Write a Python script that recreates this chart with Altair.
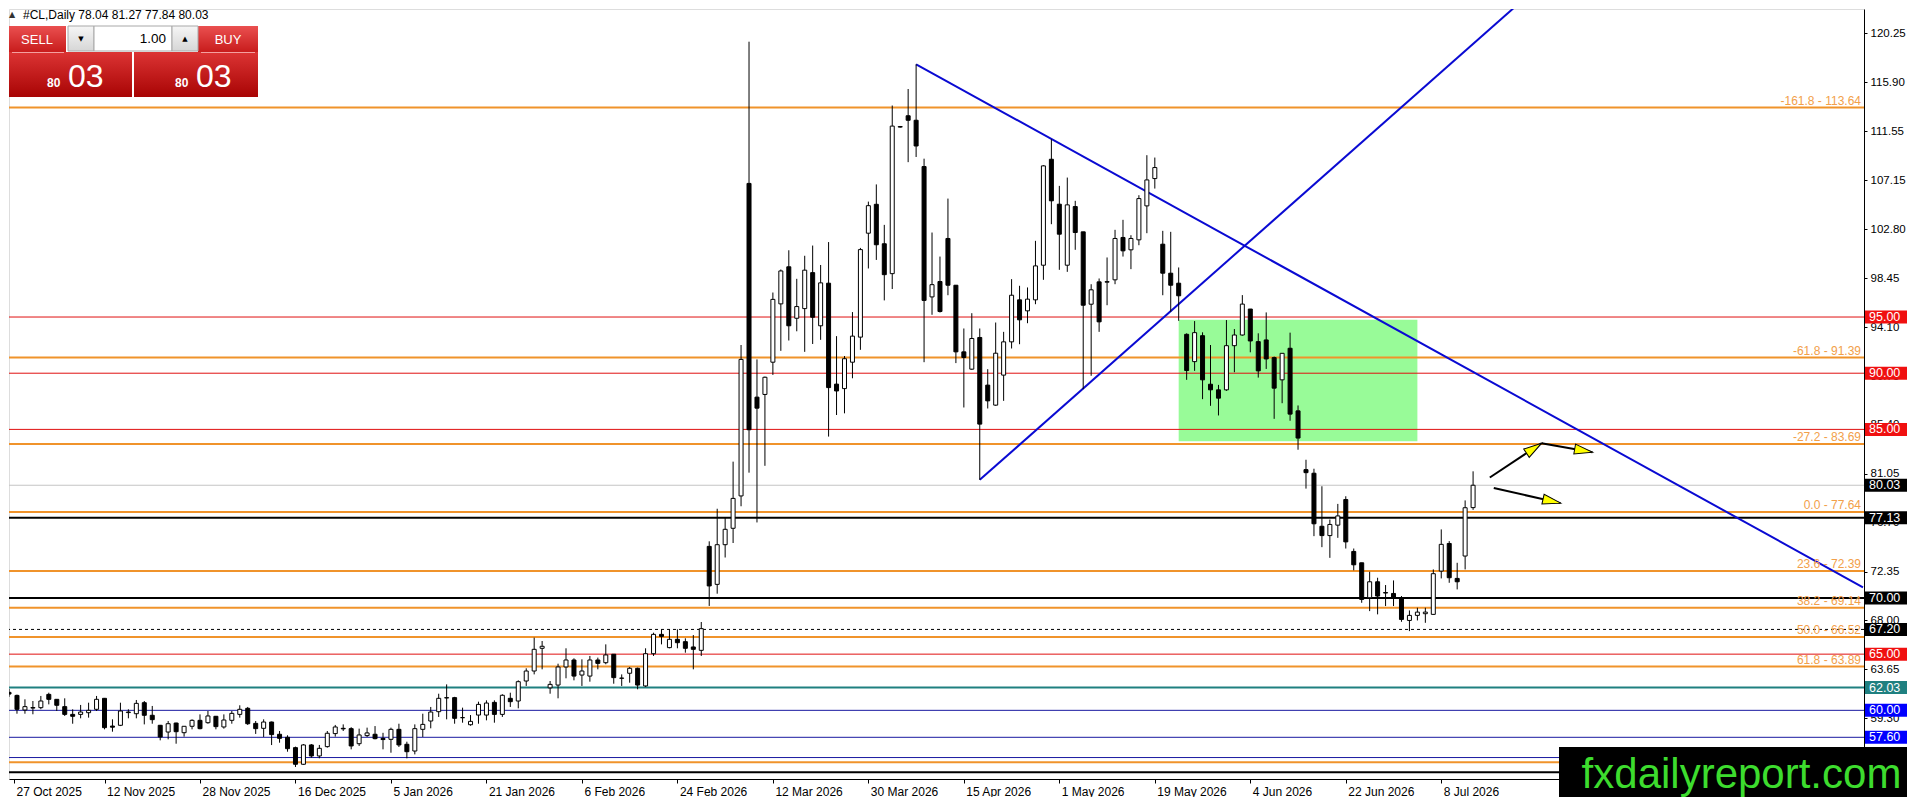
import json
import math
import altair as alt
import pandas as pd

# ---------------- data ----------------
opens = [61.60, 61.33, 60.03, 60.20, 60.24, 61.42, 60.98, 60.33, 59.64, 59.64,
         59.79, 60.09, 61.07, 58.60, 58.67, 59.80, 59.70, 60.68, 59.56, 58.67,
         58.07, 58.87, 58.01, 58.58, 59.11, 58.90, 59.47, 58.52, 59.11, 59.64,
         60.18, 58.84, 58.40, 58.96, 57.87, 57.60, 56.68, 55.20, 56.92, 55.94,
         56.77, 57.93, 58.40, 58.37, 57.03, 57.75, 57.87, 57.50, 57.42, 58.31,
         56.98, 56.38, 58.31, 59.05, 59.88, 61.10, 61.13, 59.35, 58.72, 59.58,
         59.58, 60.71, 59.64, 61.07, 60.83, 62.61, 63.50, 65.52, 62.00, 62.25,
         63.86, 64.48, 63.14, 63.05, 64.48, 64.24, 64.99, 62.85, 63.30, 63.74,
         62.17, 65.04, 66.76, 65.58, 66.32, 66.11, 65.64, 65.34, 74.59, 71.21,
         74.74, 76.20, 79.08, 106.89, 87.87, 88.11, 90.98, 96.17, 99.47, 94.89,
         95.75, 98.95, 94.22, 98.01, 89.03, 88.63, 90.98, 93.21, 102.46, 105.03,
         101.52, 98.86, 111.90, 112.91, 112.51, 108.39, 96.79, 98.16, 101.99, 97.83,
         91.90, 90.36, 93.18, 88.94, 87.16, 89.83, 92.79, 96.53, 95.55, 96.53,
         99.61, 109.04, 105.04, 99.61, 104.83, 102.58, 96.14, 98.13, 98.10, 98.31,
         102.08, 100.98, 101.87, 104.89, 107.32, 101.48, 98.90, 98.01, 93.46, 91.03,
         93.34, 89.02, 88.52, 88.52, 92.45, 93.40, 95.71, 92.81, 92.96, 91.39,
         89.41, 92.22, 86.65, 81.42, 81.10, 76.38, 75.55, 76.48, 78.76, 74.14,
         73.13, 70.02, 71.44, 70.48, 70.40, 70.02, 68.00, 68.45, 68.60, 68.54,
         72.39, 74.85, 71.74, 73.73, 78.04]
highs = [61.90, 61.40, 60.98, 60.83, 61.28, 61.57, 61.00, 61.07, 60.09, 60.48,
         60.68, 61.28, 61.10, 59.20, 60.68, 60.09, 60.92, 60.83, 60.39, 58.70,
         59.05, 58.90, 58.60, 59.20, 59.64, 59.94, 59.50, 59.64, 59.94, 60.45,
         60.30, 59.05, 59.20, 59.00, 58.16, 57.78, 56.77, 57.00, 57.00, 56.92,
         58.16, 58.70, 58.75, 58.50, 58.37, 58.46, 58.60, 58.00, 58.46, 58.81,
         57.21, 58.75, 59.70, 60.30, 61.48, 62.31, 61.20, 60.24, 59.58, 60.77,
         60.89, 60.89, 61.43, 61.57, 62.67, 63.74, 66.47, 66.17, 62.61, 64.15,
         65.52, 64.63, 64.54, 64.84, 64.69, 65.87, 65.00, 63.20, 63.86, 63.80,
         65.52, 66.91, 67.21, 67.21, 67.21, 66.41, 66.70, 67.86, 75.04, 77.94,
         77.18, 82.13, 92.51, 119.50, 91.23, 89.70, 97.18, 99.23, 100.94, 98.40,
         100.45, 101.36, 99.63, 101.67, 93.30, 91.53, 95.44, 101.15, 105.27, 106.80,
         103.20, 113.82, 112.00, 115.29, 117.49, 109.09, 102.52, 100.38, 105.54, 97.85,
         93.98, 95.34, 93.98, 90.36, 94.51, 93.68, 98.37, 97.78, 97.63, 101.78,
         108.51, 110.82, 106.67, 107.41, 105.34, 102.58, 97.92, 98.43, 100.30, 102.76,
         103.65, 102.28, 105.84, 109.40, 109.19, 102.67, 102.58, 99.41, 93.55, 94.64,
         93.64, 92.51, 88.96, 94.73, 93.93, 96.95, 95.71, 93.55, 95.41, 91.48,
         91.77, 93.61, 87.13, 82.30, 81.50, 79.94, 76.98, 78.37, 79.05, 74.40,
         73.13, 72.33, 71.80, 71.15, 71.56, 70.17, 68.89, 69.13, 69.13, 72.54,
         76.10, 75.06, 73.13, 78.68, 81.27]
lows = [61.20, 59.70, 59.70, 59.65, 60.10, 60.53, 59.94, 59.50, 58.81, 59.29,
        59.35, 59.94, 58.31, 58.10, 58.60, 59.29, 59.29, 58.75, 58.81, 57.33,
        57.42, 57.03, 57.66, 58.31, 58.31, 58.81, 58.31, 58.37, 58.81, 59.35,
        58.70, 57.90, 57.63, 56.91, 57.12, 56.32, 54.96, 55.15, 55.79, 55.73,
        56.68, 57.66, 58.16, 56.53, 56.83, 57.63, 57.42, 56.53, 56.23, 56.74,
        55.73, 56.08, 57.63, 58.40, 59.41, 59.20, 58.81, 58.90, 58.63, 58.81,
        59.11, 58.90, 59.41, 60.30, 60.18, 62.17, 63.20, 63.65, 61.48, 61.07,
        62.85, 62.67, 62.17, 62.55, 63.65, 64.10, 62.37, 62.17, 62.46, 61.87,
        62.08, 64.84, 65.87, 65.52, 65.52, 65.13, 63.65, 64.84, 69.29, 70.38,
        73.60, 74.89, 78.16, 81.15, 76.72, 81.76, 89.85, 91.99, 92.91, 93.73,
        91.90, 92.60, 92.97, 84.36, 86.28, 86.43, 89.55, 92.08, 99.32, 100.08,
        96.48, 97.49, 111.85, 108.78, 109.24, 90.98, 95.20, 95.40, 96.94, 90.90,
        86.95, 90.30, 80.51, 86.86, 87.10, 87.54, 92.20, 92.58, 94.45, 96.14,
        98.31, 103.26, 99.20, 99.02, 100.98, 88.58, 89.77, 93.68, 96.05, 97.92,
        100.38, 99.26, 101.39, 102.46, 106.43, 96.94, 95.46, 94.66, 89.41, 90.21,
        87.69, 87.10, 86.24, 88.43, 90.09, 93.34, 91.86, 89.61, 90.38, 85.94,
        87.33, 85.77, 83.19, 79.73, 75.50, 74.52, 73.57, 75.35, 74.40, 72.46,
        69.57, 68.83, 68.54, 69.28, 69.28, 67.88, 67.05, 68.00, 67.79, 68.50,
        71.74, 71.35, 70.76, 72.54, 77.84]
closes = [61.45, 60.09, 60.33, 60.25, 60.83, 60.98, 60.45, 59.64, 59.47, 59.85,
          60.00, 60.98, 58.46, 58.50, 59.94, 59.85, 60.62, 59.56, 59.17, 57.63,
          58.81, 58.10, 58.58, 59.11, 58.37, 59.50, 58.55, 59.14, 59.73, 60.09,
          58.81, 58.37, 58.96, 57.84, 57.51, 56.59, 55.20, 56.92, 55.94, 56.62,
          57.96, 58.52, 58.35, 56.83, 57.81, 57.99, 57.48, 57.40, 58.31, 56.92,
          56.32, 58.37, 58.75, 59.85, 61.07, 61.13, 59.29, 59.35, 59.02, 60.53,
          60.65, 59.64, 61.34, 60.77, 62.55, 63.50, 65.43, 65.70, 62.31, 63.86,
          64.48, 63.05, 63.50, 64.48, 64.18, 64.93, 62.91, 62.87, 63.74, 62.25,
          65.04, 66.76, 66.58, 66.32, 66.02, 65.52, 65.43, 67.27, 71.07, 74.74,
          76.11, 78.86, 91.23, 84.97, 86.89, 89.64, 96.57, 99.10, 94.22, 95.93,
          99.17, 94.98, 98.04, 88.72, 88.42, 91.29, 93.30, 101.00, 104.91, 101.43,
          98.77, 111.99, 111.95, 112.51, 110.22, 96.48, 97.88, 95.49, 97.83, 91.90,
          91.40, 93.09, 85.47, 87.54, 91.78, 92.79, 96.94, 94.75, 96.59, 99.55,
          108.45, 105.34, 102.37, 104.98, 102.52, 96.05, 97.42, 94.57, 98.15, 101.99,
          100.89, 101.99, 105.54, 107.20, 108.30, 98.90, 97.83, 96.89, 90.24, 93.61,
          89.41, 88.52, 87.78, 92.45, 93.40, 96.15, 92.87, 90.21, 91.27, 88.67,
          91.77, 86.36, 84.23, 81.15, 76.60, 75.55, 76.54, 77.30, 74.99, 72.95,
          69.87, 71.44, 70.17, 70.44, 70.02, 68.09, 68.45, 68.74, 68.74, 72.16,
          74.77, 71.80, 71.44, 78.03, 80.03]

date_labels = ["27 Oct 2025", "12 Nov 2025", "28 Nov 2025", "16 Dec 2025",
               "5 Jan 2026", "21 Jan 2026", "6 Feb 2026", "24 Feb 2026",
               "12 Mar 2026", "30 Mar 2026", "15 Apr 2026", "1 May 2026",
               "19 May 2026", "4 Jun 2026", "22 Jun 2026", "8 Jul 2026"]
bars_per_label = 12

# tick labels of the price scale (the lowest one is hidden by the watermark)
price_ticks = [120.25, 115.90, 111.55, 107.15, 102.80, 98.45, 94.10, 89.75,
               85.40, 81.05, 76.70, 72.35, 68.00, 63.65, 59.30]

fib_levels = [113.64, 91.39, 83.69, 77.64, 72.39, 69.14, 66.52, 63.89, 55.39]
fib_names = ["-161.8", "-61.8", "-27.2", "0.0", "23.6", "38.2", "50.0", "61.8", "100.0"]

red_levels = [95.00, 90.00, 85.00, 65.00]
black_levels = [77.13, 70.00, 54.50]
blue_levels = [60.00, 57.60, 55.80]
teal_levels = [62.03]
last_price = [80.03]
dashed_levels = [67.20]

box_prices = [95.00, 90.00, 85.00, 80.03, 77.13, 70.00, 67.20, 65.00, 62.03, 60.00, 57.60]
box_kinds = ["red", "red", "red", "black", "black", "black", "black", "red", "teal", "blue", "blue"]

# trend lines: (bar, price) end points
trend_bar = [114, 233.0, 122, 190.0]
trend_price = [117.49, 70.95, 80.51, 123.06]
trend_id = ["down", "down", "up", "up"]

zone_bar = [147, 177]
zone_price = [83.95, 94.75]

# arrows: start bar, start price, end bar, end price
arrow_x0 = [186.1, 192.6, 186.6]
arrow_y0 = [80.72, 83.77, 79.78]
arrow_x1 = [192.6, 199.0, 195.0]
arrow_y1 = [83.77, 82.97, 78.44]

# ---------------- layout ----------------
W, H = 1855, 770
X_DOMAIN = [0.625, 232.5]
Y_DOMAIN = [53.89, 122.41]
px_per_bar = W / (X_DOMAIN[1] - X_DOMAIN[0])
px_per_usd = H / (Y_DOMAIN[1] - Y_DOMAIN[0])

ORANGE = "#f0932b"
FIBTXT = "#f2a04a"
RED = "#e01010"
BLUE = "#1a1aa0"
TEAL = "#1f8080"
TREND = "#0a0ad2"
FONT = "Liberation Sans"

xs = alt.Scale(domain=X_DOMAIN, nice=False, zero=False)
ys = alt.Scale(domain=Y_DOMAIN, nice=False, zero=False)

label_expr = "%s[round(datum.value / %d)]" % (json.dumps(date_labels), bars_per_label)
xaxis = alt.Axis(values=[X_DOMAIN[0]] + [bars_per_label * k for k in range(1, len(date_labels))],
                 labelExpr=label_expr, tickSize=4, labelAlign="left", labelBaseline="top",
                 labelPadding=3, labelFontSize=12, labelOffset=2, labelFlush=False,
                 labelOverlap=False, title=None, grid=False, domainColor="black",
                 tickColor="black", labelColor="black", labelFont=FONT)
yaxis = alt.Axis(orient="right", values=price_ticks, format=".2f", tickSize=3,
                 labelPadding=3, labelFontSize=11.5, labelColor="black", title=None,
                 grid=False, labelOverlap=False, labelFlush=False, domainColor="black",
                 tickColor="black", labelFont=FONT, zindex=0)


def X(f):
    return alt.X(f, type="quantitative", scale=xs, axis=xaxis)


def Y(f):
    return alt.Y(f, type="quantitative", scale=ys, axis=yaxis)


dummy = pd.DataFrame({"a": [0]})


def rect(x0, x1, y0, y1, **kw):
    return alt.Chart(dummy).mark_rect(**kw).encode(
        x=alt.value(x0), x2=alt.value(x1), y=alt.value(y0), y2=alt.value(y1))


def txt(x, y, s, **kw):
    base = dict(font=FONT)
    base.update(kw)
    return alt.Chart(dummy).mark_text(text=s, **base).encode(x=alt.value(x), y=alt.value(y))


def grad(c0, c1):
    return alt.Gradient(gradient="linear",
                        stops=[alt.GradientStop(offset=0, color=c0),
                               alt.GradientStop(offset=1, color=c1)],
                        x1=0, x2=0, y1=0, y2=1)


layers = []

# green zone
zone_df = pd.DataFrame({"x0": [zone_bar[0]], "x1": [zone_bar[1]],
                        "y0": [zone_price[0]], "y1": [zone_price[1]]})
layers.append(alt.Chart(zone_df).mark_rect(color="#98fb98", opacity=1, clip=True).encode(
    x=X("x0"), x2="x1", y=Y("y0"), y2="y1"))


def hlines(levels, color, width, dash=None):
    kw = dict(color=color, strokeWidth=width)
    if dash:
        kw["strokeDash"] = dash
    return alt.Chart(pd.DataFrame({"p": levels})).mark_rule(**kw).encode(y=Y("p"))


layers += [
    hlines(last_price, "#c4c4c4", 1),
    hlines(red_levels, RED, 1),
    hlines(blue_levels, BLUE, 1),
    hlines(fib_levels, ORANGE, 2),
    hlines(teal_levels, TEAL, 2),
    hlines(black_levels, "black", 2),
    hlines(dashed_levels, "black", 1, [3, 3]),
]

# trend lines
trend_df = pd.DataFrame({"b": trend_bar, "p": trend_price, "id": trend_id})
layers.append(alt.Chart(trend_df).mark_line(color=TREND, strokeWidth=2, clip=True).encode(
    x=X("b"), y=Y("p"), detail="id:N"))

# candles
cdf = pd.DataFrame({"idx": list(range(len(opens))), "open": opens, "high": highs,
                    "low": lows, "close": closes})
layers.append(alt.Chart(cdf).mark_rule(color="black", strokeWidth=1, clip=True).encode(
    x=X("idx"), y=Y("low"), y2="high"))
layers.append(alt.Chart(cdf).mark_bar(size=4, stroke="black", strokeWidth=1, clip=True).encode(
    x=X("idx"), y=Y("open"), y2="close",
    fill=alt.condition("datum.close > datum.open", alt.value("white"), alt.value("black"))))

# arrows
adf = pd.DataFrame({"x0": arrow_x0, "y0": arrow_y0, "x1": arrow_x1, "y1": arrow_y1})
layers.append(alt.Chart(adf).mark_rule(color="black", strokeWidth=2, clip=True).encode(
    x=X("x0"), y=Y("y0"), x2="x1", y2="y1"))
heads_x, heads_y, heads_a = [], [], []
for x0, y0, x1, y1 in zip(arrow_x0, arrow_y0, arrow_x1, arrow_y1):
    dxp = (x1 - x0) * px_per_bar
    dyp = -(y1 - y0) * px_per_usd
    L = math.hypot(dxp, dyp)
    ux, uy = dxp / L, dyp / L
    back = 9.0
    heads_x.append(x1 - ux * back / px_per_bar)
    heads_y.append(y1 + uy * back / px_per_usd)
    heads_a.append(math.degrees(math.atan2(dyp, dxp)) % 360)
hdf = pd.DataFrame({"x": heads_x, "y": heads_y, "a": heads_a})
layers.append(alt.Chart(hdf).mark_point(
    shape="M 1 0 L -1 -0.55 L -1 0.55 Z", size=330, filled=True, fill="#ffff00",
    stroke="black", strokeWidth=1, opacity=1, fillOpacity=1, strokeOpacity=1).encode(
    x=X("x"), y=Y("y"), angle=alt.Angle("a:Q", scale=None)))

# fib labels (the 100.0 label lies under the watermark in the reference)
shown = [(n, p) for n, p in zip(fib_names, fib_levels) if n != "100.0"]
fdf = pd.DataFrame({"p": [p for _, p in shown],
                    "t": [f"{n} - {p:.2f}" for n, p in shown]})
layers.append(alt.Chart(fdf).mark_text(align="right", baseline="alphabetic", dy=-3,
                                       fontSize=12, color=FIBTXT, font=FONT).encode(
    x=alt.value(W - 3), y=Y("p"), text="t:N"))

# price boxes on the right scale
kind_color = {"red": "#f01010", "black": "#000000", "teal": "#1f8080", "blue": "#0000ff"}
half = 6.5 / px_per_usd
bdf = pd.DataFrame({"p": box_prices, "c": [kind_color[k] for k in box_kinds],
                    "t": [f"{p:.2f}" for p in box_prices]})
layers.append(alt.Chart(bdf).transform_calculate(
    top=f"datum.p + {half}", bot=f"datum.p - {half}").mark_rect().encode(
    x=alt.value(W + 1), x2=alt.value(W + 43), y=Y("top:Q"), y2="bot:Q",
    color=alt.Color("c:N", scale=None)))
layers.append(alt.Chart(bdf).mark_text(align="left", baseline="middle", color="white",
                                       fontSize=12.5, font=FONT).encode(
    x=alt.value(W + 5), y=Y("p"), text="t:N"))

# watermark
layers.append(rect(1550, W + 43, 738, H + 18, color="black"))
layers.append(txt((1567 + W + 43) / 2, 779, "fxdailyreport.com", align="center",
                  baseline="alphabetic", fontSize=42, color="#3ddc2e"))

# header text and trade widget
title = f"#CL,Daily  {opens[-1]:.2f} {highs[-1]:.2f} {lows[-1]:.2f} {closes[-1]:.2f}"
layers.append(txt(0, 5.5, "▲", align="left", baseline="middle", fontSize=8, color="#333333",
                  font="DejaVu Sans"))
layers.append(txt(14, 5.5, title, align="left", baseline="middle", fontSize=12, color="black"))

red_top = grad("#ea5050", "#c81c1c")
red_big = grad("#dc3434", "#a80404")
gray = grad("#f6f6f6", "#d6d6d6")
layers += [
    rect(0, 57, 17, 43, fill=red_top),
    rect(189, 249, 17, 43, fill=red_top),
    rect(59, 85, 17, 42, fill=gray, stroke="#a8a8a8", strokeWidth=1),
    rect(85, 163, 17, 42, fill="white", stroke="#a8a8a8", strokeWidth=1),
    rect(163, 189, 17, 42, fill=gray, stroke="#a8a8a8", strokeWidth=1),
    rect(0, 123, 43, 88, fill=red_big),
    rect(125, 249, 43, 88, fill=red_big),
    alt.Chart(dummy).mark_rule(color="#f4a0a0", strokeWidth=1).encode(
        x=alt.value(3), x2=alt.value(55), y=alt.value(43.5), y2=alt.value(43.5)),
    alt.Chart(dummy).mark_rule(color="#f4a0a0", strokeWidth=1).encode(
        x=alt.value(192), x2=alt.value(246), y=alt.value(43.5), y2=alt.value(43.5)),
    txt(28, 30.5, "SELL", align="center", baseline="middle", fontSize=13, color="white"),
    txt(219, 30.5, "BUY", align="center", baseline="middle", fontSize=13, color="white"),
    txt(157, 30, "1.00", align="right", baseline="middle", fontSize=13.5, color="black"),
    txt(72, 30, "▼", align="center", baseline="middle", fontSize=7, color="black",
        font="DejaVu Sans"),
    txt(176, 30, "▲", align="center", baseline="middle", fontSize=7, color="black",
        font="DejaVu Sans"),
    txt(38, 77.5, "80", align="left", baseline="alphabetic", fontSize=12, fontWeight="bold",
        color="white"),
    txt(59, 77.5, "03", align="left", baseline="alphabetic", fontSize=32, color="white"),
    txt(166, 77.5, "80", align="left", baseline="alphabetic", fontSize=12, fontWeight="bold",
        color="white"),
    txt(187, 77.5, "03", align="left", baseline="alphabetic", fontSize=32, color="white"),
]

chart = alt.layer(*layers).properties(
    width=W, height=H, padding={"left": 0, "top": 0, "right": 0, "bottom": 0},
    background="white"
).configure_view(stroke="black", strokeWidth=1).configure(font=FONT)

chart.save("out.html", embed_options={"renderer": "svg", "actions": False})
